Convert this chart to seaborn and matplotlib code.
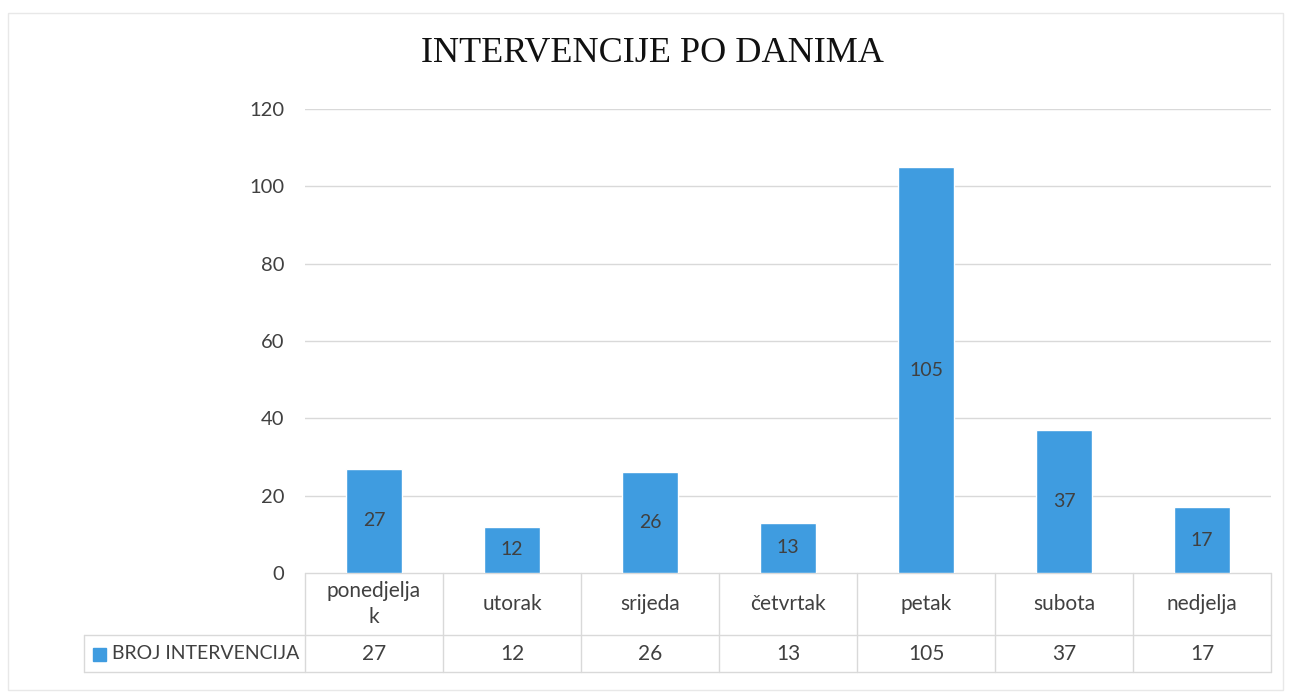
import matplotlib
matplotlib.use("Agg")
import matplotlib.pyplot as plt
import seaborn as sns
import pandas as pd
from matplotlib.patches import Rectangle

# data
days = ["ponedjeljak", "utorak", "srijeda", "četvrtak", "petak", "subota", "nedjelja"]
day_labels = ["ponedjelja\nk", "utorak", "srijeda", "četvrtak", "petak", "subota", "nedjelja"]
counts = [27, 12, 26, 13, 105, 37, 17]
series_name = "BROJ INTERVENCIJA"
title = "INTERVENCIJE PO DANIMA"
y_ticks = [0, 20, 40, 60, 80, 100, 120]

bar_color = "#3f9ce0"
grid_color = "#d9d9d9"
text_color = "#404040"

sns.set_style("white")
plt.rcParams["font.family"] = ["Lato", "DejaVu Sans"]

df = pd.DataFrame({"day": days, "count": counts})

W, H = 1289, 694
fig = plt.figure(figsize=(W / 100, H / 100), dpi=100)

# axes placed in pixel terms: x 305..1271, y 109..573 (from top)
ax = fig.add_axes([305 / W, (H - 573) / H, 966 / W, 464 / H])

sns.barplot(data=df, x="day", y="count", color=bar_color, width=0.4,
            saturation=1, ax=ax, zorder=3)

ax.set_ylim(0, 120)
ax.set_xlim(-0.5, len(days) - 0.5)
ax.set_yticks(y_ticks)
ax.set_yticklabels([str(t) for t in y_ticks], fontsize=14.5, color=text_color)
ax.tick_params(axis="y", length=0, pad=15)
ax.set_xticks([])
ax.set_xlabel("")
ax.set_ylabel("")
for s in ax.spines.values():
    s.set_visible(False)

# gridlines
for t in y_ticks[1:]:
    ax.axhline(t, color=grid_color, lw=1, zorder=0, xmin=-0.008)

# bar labels centred in bars
for i, v in enumerate(counts):
    ax.text(i, v / 2, str(v), ha="center", va="center",
            fontsize=14, color=text_color, zorder=4)

# data table under the chart
trans = ax.get_xaxis_transform()
row1 = -62 / 464
row2 = -99 / 464
leg_left = -0.5 + (84 - 305) / 138
lk = dict(color=grid_color, lw=1, transform=trans, clip_on=False)
ax.plot([-0.5, len(days) - 0.5], [0, 0], **lk)
ax.plot([leg_left, len(days) - 0.5], [row1, row1], **lk)
ax.plot([leg_left, len(days) - 0.5], [row2, row2], **lk)
ax.plot([leg_left, leg_left], [row1, row2], **lk)
for k in range(len(days) + 1):
    ax.plot([k - 0.5, k - 0.5], [0, row2], **lk)

for i, (lab, v) in enumerate(zip(day_labels, counts)):
    ax.text(i, row1 / 2, lab, ha="center", va="center", fontsize=15,
            color=text_color, transform=trans, linespacing=1.4)
    ax.text(i, (row1 + row2) / 2, str(v), ha="center", va="center",
            fontsize=15, color=text_color, transform=trans)

# legend key in table
fig.add_artist(Rectangle((93 / W, (H - 661) / H), 13 / W, 13 / H,
                         color=bar_color, transform=fig.transFigure))
ax.text(leg_left + 28 / 138, (row1 + row2) / 2, series_name, ha="left",
        va="center", fontsize=14, color=text_color, transform=trans)

# title
fig.text(652 / W, 1 - 53 / H, title, ha="center", va="center",
         fontsize=26, family="Liberation Serif", color="#111111")

# faint chart border
fig.add_artist(Rectangle((8 / W, (H - 690) / H), 1275 / W, 677 / H,
                         fill=False, edgecolor="#e8e8e8", lw=1,
                         transform=fig.transFigure))

fig.savefig("out.png", dpi=100)
